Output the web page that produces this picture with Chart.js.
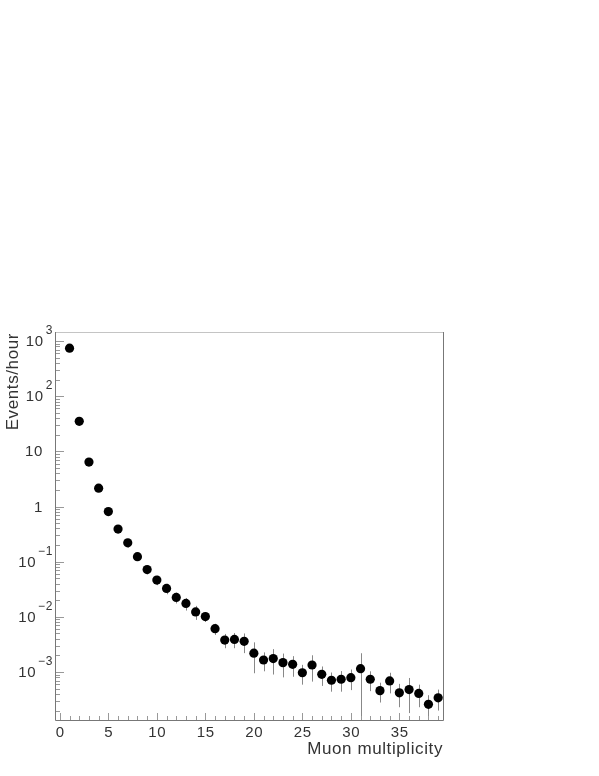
<!DOCTYPE html>
<html>
<head>
<meta charset="utf-8">
<script src="https://cdn.jsdelivr.net/npm/chart.js@4/dist/chart.umd.min.js"></script>
<style>
  html, body { margin: 0; padding: 0; background: #fff; }
  #wrap { width: 599px; height: 776px; }
</style>
</head>
<body>
<div id="wrap"><canvas id="mult" width="599" height="776"></canvas></div>
<script>
// Muon multiplicity spectrum (events per hour, log scale)
const multiplicity = [1, 2, 3, 4, 5, 6, 7, 8, 9, 10, 11, 12, 13, 14, 15, 16, 17, 18, 19, 20,
  21, 22, 23, 24, 25, 26, 27, 28, 29, 30, 31, 32, 33, 34, 35, 36, 37, 38, 39];
const rate = [740, 35, 6.4, 2.15, 0.81, 0.39, 0.22, 0.123, 0.072, 0.0465,
  0.0327, 0.0225, 0.0175, 0.0123, 0.0101, 0.0061, 0.0038, 0.0039, 0.0036, 0.0022,
  0.00165, 0.00175, 0.00148, 0.00138, 0.00097, 0.00134, 0.00091, 0.00071, 0.00074, 0.00079,
  0.00115, 0.00074, 0.00046, 0.00069, 0.00042, 0.00048, 0.00041, 0.00026, 0.00034];
const rateErr = [10, 1.5, 0.5, 0.25, 0.1, 0.06, 0.04, 0.02, 0.013, 0.009,
  0.007, 0.005, 0.0045, 0.0035, 0.002, 0.0014, 0.0011, 0.0012, 0.0014, 0.00125,
  0.00062, 0.00085, 0.00068, 0.00056, 0.00038, 0.00067, 0.00035, 0.00027, 0.0003, 0.00032,
  0.00104, 0.00029, 0.00018, 0.00028, 0.00019, 0.0003, 0.00018, 0.00012, 0.00014];

const xMajorTicks = [0, 5, 10, 15, 20, 25, 30, 35];
const yDecades = [-3, -2, -1, 0, 1, 2, 3];

const FONT = '"Liberation Sans", Arial, Helvetica, sans-serif';
const TICK_COL = "#999";
const TEXT_COL = "#333";

// error bars under the markers
const errorBars = {
  id: "errorBars",
  beforeDatasetsDraw(chart) {
    const { ctx, scales: { x, y }, chartArea: a } = chart;
    ctx.save();
    ctx.beginPath();
    ctx.rect(a.left, a.top, a.right - a.left, a.bottom - a.top);
    ctx.clip();
    ctx.strokeStyle = "#888";
    ctx.lineWidth = 1;
    multiplicity.forEach((m, i) => {
      const px = Math.round(x.getPixelForValue(m)) + 0.5;
      const lo = rate[i] - rateErr[i];
      const hi = rate[i] + rateErr[i];
      const yLo = lo > 0 ? y.getPixelForValue(lo) : a.bottom;
      const yHi = y.getPixelForValue(hi);
      ctx.beginPath();
      ctx.moveTo(px, Math.min(yLo, a.bottom));
      ctx.lineTo(px, yHi);
      ctx.stroke();
    });
    ctx.restore();
  },
};

// ROOT-style frame, inward ticks and labels
const frame = {
  id: "frame",
  afterDraw(chart) {
    const { ctx, scales: { x, y }, chartArea: a } = chart;
    ctx.save();
    ctx.lineWidth = 1;

    // y ticks (log: majors at decades, minors at 2..9)
    ctx.strokeStyle = TICK_COL;
    for (let d = -4; d <= 3; d++) {
      for (let k = 1; k <= 9; k++) {
        const v = k * Math.pow(10, d);
        if (v < y.min || v > y.max) continue;
        const py = Math.round(y.getPixelForValue(v)) + 0.5;
        const len = k === 1 ? 9 : 5;
        ctx.beginPath();
        ctx.moveTo(a.left, py);
        ctx.lineTo(a.left + len, py);
        ctx.stroke();
      }
    }
    // x ticks
    for (let v = 0; v <= 39; v++) {
      const px = Math.round(x.getPixelForValue(v)) + 0.5;
      const len = v % 5 === 0 ? 7 : 4;
      ctx.beginPath();
      ctx.moveTo(px, a.bottom);
      ctx.lineTo(px, a.bottom - len);
      ctx.stroke();
    }

    // frame
    ctx.strokeStyle = "#c4c4c4";
    ctx.beginPath();
    ctx.moveTo(a.left, a.top + 0.5);
    ctx.lineTo(a.right, a.top + 0.5);
    ctx.stroke();
    ctx.strokeStyle = "#777";
    ctx.beginPath();
    ctx.moveTo(a.left + 0.5, a.top);
    ctx.lineTo(a.left + 0.5, a.bottom + 0.5);
    ctx.lineTo(a.right + 0.5, a.bottom + 0.5);
    ctx.lineTo(a.right + 0.5, a.top);
    ctx.stroke();

    // x labels
    ctx.fillStyle = TEXT_COL;
    ctx.font = `15px ${FONT}`;
    ctx.letterSpacing = "0.6px";
    ctx.textAlign = "center";
    ctx.textBaseline = "alphabetic";
    xMajorTicks.forEach((v) => {
      ctx.fillText(String(v), x.getPixelForValue(v) + 0.3, a.bottom + 17);
    });

    // y labels
    yDecades.forEach((d) => {
      const py = y.getPixelForValue(Math.pow(10, d));
      if (d === 0 || d === 1) {
        ctx.font = `15px ${FONT}`;
        ctx.textAlign = "right";
        ctx.textBaseline = "middle";
        ctx.fillText(d === 0 ? "1" : "10", 43, py + 1);
        return;
      }
      const sup = d < 0 ? "\u2212" + String(-d) : String(d);
      ctx.font = `12px ${FONT}`;
      ctx.textAlign = "right";
      ctx.textBaseline = "middle";
      ctx.fillText(sup, 53, py - 10);
      const w = ctx.measureText(sup).width;
      ctx.font = `15px ${FONT}`;
      ctx.fillText("10", 53 - w - 2, py + 1);
    });

    // axis titles
    ctx.font = `17px ${FONT}`;
    ctx.letterSpacing = "0.6px";
    ctx.textAlign = "right";
    ctx.textBaseline = "alphabetic";
    ctx.fillText("Muon multiplicity", a.right, 754);

    ctx.translate(18, 333);
    ctx.rotate(-Math.PI / 2);
    ctx.textAlign = "right";
    ctx.fillText("Events/hour", 0, 0);
    ctx.restore();
  },
};

new Chart(document.getElementById("mult"), {
  type: "scatter",
  data: {
    datasets: [
      {
        label: "rate",
        data: multiplicity.map((m, i) => ({ x: m, y: rate[i] })),
        backgroundColor: "#000",
        borderColor: "#000",
        pointRadius: 4.6,
        pointHoverRadius: 4.6,
        borderWidth: 0,
      },
    ],
  },
  options: {
    responsive: false,
    animation: false,
    events: [],
    layout: { padding: { left: 55, top: 332, right: 156, bottom: 56 } },
    scales: {
      x: { type: "linear", min: -0.5, max: 39.5, display: false },
      y: { type: "logarithmic", min: 1.35e-4, max: 1456, display: false },
    },
    plugins: {
      legend: { display: false },
      tooltip: { enabled: false },
    },
  },
  plugins: [errorBars, frame],
});
</script>
</body>
</html>
